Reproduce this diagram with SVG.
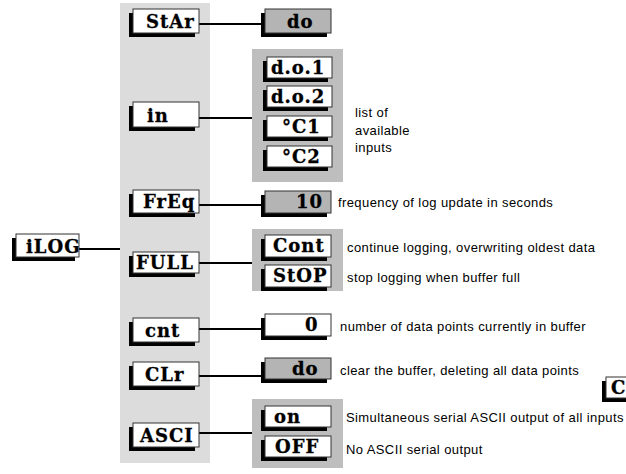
<svg xmlns="http://www.w3.org/2000/svg" width="626" height="474" viewBox="0 0 626 474">
<style>
.sh{fill:#000}
.bx{fill:#fff;stroke:#333;stroke-width:1}
.gb{fill:#b4b4b4;stroke:#333;stroke-width:1}
.t{font-family:"DejaVu Serif","Liberation Serif",serif;font-weight:bold;font-size:18px;letter-spacing:1px;fill:#000;stroke:#000;stroke-width:0.3}
.d{font-family:"Liberation Sans",Arial,sans-serif;font-size:13px;letter-spacing:0.4px;fill:#000}
.c{stroke:#000;stroke-width:2;fill:none}
</style>
<rect x="0" y="0" width="626" height="474" fill="#fff"/>
<rect x="120" y="3" width="90" height="460" fill="#dcdcdc"/>
<rect x="252" y="49" width="91" height="133" fill="#bebebe"/>
<rect x="252" y="229" width="91" height="62" fill="#bebebe"/>
<rect x="252" y="399" width="91" height="69" fill="#bebebe"/>
<g id="connectors">
<line class="c" x1="79" y1="249" x2="120" y2="249" stroke-width="1.5"/>
<line class="c" x1="199" y1="24" x2="262" y2="24"/>
<line class="c" x1="199" y1="118" x2="252" y2="118"/>
<line class="c" x1="199" y1="205" x2="262" y2="205"/>
<line class="c" x1="199" y1="263" x2="252" y2="263"/>
<line class="c" x1="199" y1="329" x2="262" y2="329"/>
<line class="c" x1="199" y1="376" x2="262" y2="376"/>
<line class="c" x1="199" y1="433" x2="252" y2="433"/>
</g>
<g id="iLOG"><rect class="sh" x="12" y="238" width="63" height="23"/><rect class="bx" x="16" y="234" width="63" height="23"/><text class="t" x="26" y="253">iLOG</text></g>
<g id="StAr"><rect class="sh" x="129" y="13" width="66" height="24"/><rect class="bx" x="133" y="9" width="66" height="24"/><text class="t" x="146" y="28">StAr</text></g>
<g id="in"><rect class="sh" x="129" y="106" width="66" height="25"/><rect class="bx" x="133" y="102" width="66" height="25"/><text class="t" x="147" y="122">in</text></g>
<g id="FrEq"><rect class="sh" x="129" y="194" width="66" height="23"/><rect class="bx" x="133" y="190" width="66" height="23"/><text class="t" x="143" y="208">FrEq</text></g>
<g id="FULL"><rect class="sh" x="129" y="256" width="66" height="21"/><rect class="bx" x="133" y="252" width="66" height="21"/><text class="t" x="136" y="269">FULL</text></g>
<g id="cnt"><rect class="sh" x="129" y="322" width="66" height="24"/><rect class="bx" x="133" y="318" width="66" height="24"/><text class="t" x="145" y="337">cnt</text></g>
<g id="CLr"><rect class="sh" x="129" y="366" width="66" height="24"/><rect class="bx" x="133" y="362" width="66" height="24"/><text class="t" x="145" y="381">CLr</text></g>
<g id="ASCI"><rect class="sh" x="129" y="427" width="66" height="24"/><rect class="bx" x="133" y="423" width="66" height="24"/><text class="t" x="140" y="442">ASCI</text></g>
<g id="StAr-do"><rect class="sh" x="261" y="13" width="66" height="24"/><rect class="gb" x="265" y="9" width="66" height="24"/><text class="t" x="287" y="28">do</text></g>
<g id="in-do1"><rect class="sh" x="263" y="61" width="65" height="21"/><rect class="bx" x="267" y="57" width="65" height="21"/><text class="t" x="271" y="74">d.o.1</text></g>
<g id="in-do2"><rect class="sh" x="263" y="90" width="65" height="21"/><rect class="bx" x="267" y="86" width="65" height="21"/><text class="t" x="271" y="103">d.o.2</text></g>
<g id="in-C1"><rect class="sh" x="263" y="120" width="65" height="21"/><rect class="bx" x="267" y="116" width="65" height="21"/><text class="t" x="282" y="133">°C1</text></g>
<g id="in-C2"><rect class="sh" x="263" y="150" width="65" height="21"/><rect class="bx" x="267" y="146" width="65" height="21"/><text class="t" x="282" y="163">°C2</text></g>
<g id="FrEq-10"><rect class="sh" x="261" y="195" width="66" height="22"/><rect class="gb" x="265" y="191" width="66" height="22"/><text class="t" x="296" y="208">10</text></g>
<g id="FULL-Cont"><rect class="sh" x="261" y="239" width="66" height="22"/><rect class="bx" x="265" y="235" width="66" height="22"/><text class="t" x="273" y="252">Cont</text></g>
<g id="FULL-StOP"><rect class="sh" x="261" y="269" width="66" height="22"/><rect class="bx" x="265" y="265" width="66" height="22"/><text class="t" x="273" y="282">StOP</text></g>
<g id="cnt-0"><rect class="sh" x="261" y="318" width="66" height="22"/><rect class="bx" x="265" y="314" width="66" height="22"/><text class="t" x="305" y="331">0</text></g>
<g id="CLr-do"><rect class="sh" x="261" y="362" width="66" height="21"/><rect class="gb" x="265" y="358" width="66" height="21"/><text class="t" x="292" y="375">do</text></g>
<g id="ASCI-on"><rect class="sh" x="261" y="410" width="66" height="21"/><rect class="bx" x="265" y="406" width="66" height="21"/><text class="t" x="274" y="423">on</text></g>
<g id="ASCI-OFF"><rect class="sh" x="261" y="440" width="66" height="21"/><rect class="bx" x="265" y="436" width="66" height="21"/><text class="t" x="275" y="453">OFF</text></g>
<g id="C-partial"><rect class="sh" x="602" y="381" width="40" height="21"/><rect class="bx" x="606" y="377" width="40" height="21"/><text class="t" x="611" y="394">C</text></g>
<text class="d" x="355" y="117">list of</text>
<text class="d" x="355" y="135">available</text>
<text class="d" x="355" y="152">inputs</text>
<text class="d" x="338" y="207">frequency of log update in seconds</text>
<text class="d" x="347" y="252">continue logging, overwriting oldest data</text>
<text class="d" x="347" y="282">stop logging when buffer full</text>
<text class="d" x="340" y="331">number of data points currently in buffer</text>
<text class="d" x="340" y="375">clear the buffer, deleting all data points</text>
<text class="d" x="346" y="422">Simultaneous serial ASCII output of all inputs</text>
<text class="d" x="346" y="454">No ASCII serial output</text>
</svg>
